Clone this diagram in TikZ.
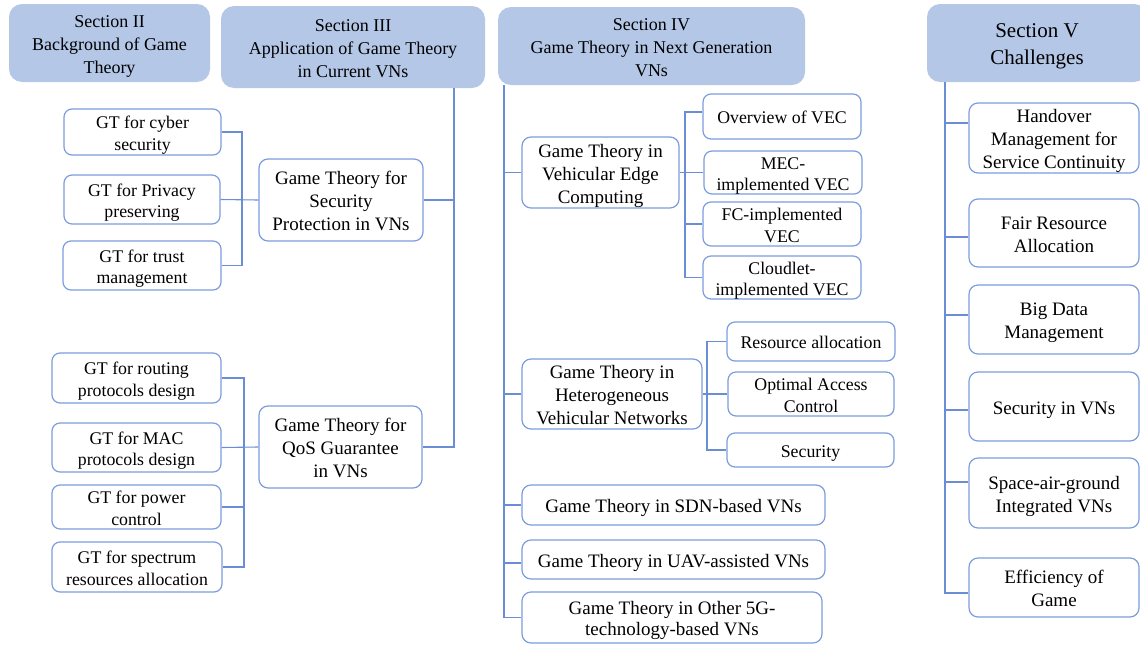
\documentclass[tikz,border=0pt]{standalone}
\usepackage{fontspec}
\setmainfont{Liberation Serif}
\definecolor{hfill}{HTML}{B4C7E7}
\definecolor{bcol}{HTML}{7B9CDD}
\definecolor{lcol}{HTML}{6A8DD6}
\newcommand\boxtext[1]{\raisebox{-3pt}[\height][\depth]{\begin{tabular}{@{}c@{}}#1\end{tabular}}}
\tikzset{
  hdr/.style={fill=hfill, draw=none, rounded corners=13pt, inner sep=0pt,
    font=\fontsize{18}{23}\selectfont},
  hdrbig/.style={hdr, font=\fontsize{21}{27}\selectfont},
  midbox/.style={draw=bcol, line width=1.2pt, rounded corners=9pt, inner sep=0pt,
    font=\fontsize{19}{23}\selectfont},
  leaf/.style={draw=bcol, line width=1.2pt, rounded corners=8pt, inner sep=0pt,
    font=\fontsize{17.8}{21.5}\selectfont},
  ln/.style={draw=lcol, line width=1.1pt}
}
\begin{document}
\begin{tikzpicture}[x=1pt,y=-1pt]
\useasboundingbox (0,0) rectangle (1140,645);
% headers
\node[hdr, minimum width=201pt, minimum height=78pt] (h2) at (109.5,43) {\boxtext{Section II\\Background of Game\\Theory}};
\node[hdr, minimum width=264pt, minimum height=82pt] (h3) at (353,47) {\boxtext{Section III\\Application of Game Theory\\in Current VNs}};
\node[hdr, minimum width=307pt, minimum height=78pt] (h4) at (651.5,46) {\boxtext{Section IV\\Game Theory in Next Generation\\VNs}};
\node[hdrbig, minimum width=220pt, minimum height=78pt] (h5) at (1037,43) {\boxtext{Section V\\Challenges}};

% Section III
\node[midbox, minimum width=164pt, minimum height=82pt] (sec) at (341,200) {\boxtext{Game Theory for\\Security\\Protection in VNs}};
\node[midbox, minimum width=163pt, minimum height=82pt] (qos) at (340.5,447) {\boxtext{Game Theory for\\QoS Guarantee\\in VNs}};
\node[leaf, minimum width=157pt, minimum height=46pt] (g1) at (142.5,132) {\boxtext{GT for cyber\\security}};
\node[leaf, minimum width=156pt, minimum height=49pt] (g2) at (142,199.5) {\boxtext{GT for Privacy\\preserving}};
\node[leaf, minimum width=158pt, minimum height=49pt] (g3) at (142,265.5) {\boxtext{GT for trust\\management}};
\node[leaf, minimum width=169pt, minimum height=50pt] (q1) at (136.5,378) {\boxtext{GT for routing\\protocols design}};
\node[leaf, minimum width=169pt, minimum height=49pt] (q2) at (136.5,447.5) {\boxtext{GT for MAC\\protocols design}};
\node[leaf, minimum width=169pt, minimum height=44pt] (q3) at (136.5,507) {\boxtext{GT for power\\control}};
\node[leaf, minimum width=170pt, minimum height=50pt] (q4) at (137,567) {\boxtext{GT for spectrum\\resources allocation}};
\coordinate (t3) at (454,0);
\coordinate (b1) at (242,0);
\coordinate (b2) at (244,0);
\draw[ln] (h3.south -| t3) -- (t3 |- qos.east) -- (qos.east);
\draw[ln] (sec.east) -- (sec.east -| t3);
\draw[ln] (g1.east) -- (g1.east -| b1) -- (g3.east -| b1) -- (g3.east);
\draw[ln] (g2.east) -- (sec.west);
\draw[ln] (q1.east) -- (q1.east -| b2) -- (q4.east -| b2) -- (q4.east);
\draw[ln] (q2.east) -- (qos.west);
\draw[ln] (q3.east) -- (q3.east -| b2);

% Section IV
\node[midbox, minimum width=157pt, minimum height=71pt] (vec) at (600.5,172.5) {\boxtext{Game Theory in\\Vehicular Edge\\Computing}};
\node[leaf, minimum width=158pt, minimum height=45pt] (v1) at (782,116.5) {\boxtext{Overview of VEC}};
\node[leaf, minimum width=158pt, minimum height=43pt] (v2) at (783,172.5) {\boxtext{MEC-\\implemented VEC}};
\node[leaf, minimum width=158pt, minimum height=44pt] (v3) at (782,224) {\boxtext{FC-implemented\\VEC}};
\node[leaf, minimum width=158pt, minimum height=43pt] (v4) at (782,277.5) {\boxtext{Cloudlet-\\implemented VEC}};
\node[midbox, minimum width=180pt, minimum height=70pt] (het) at (612,394) {\boxtext{Game Theory in\\Heterogeneous\\Vehicular Networks}};
\node[leaf, minimum width=168pt, minimum height=39pt] (r1) at (811,341.5) {\boxtext{Resource allocation}};
\node[leaf, minimum width=166pt, minimum height=44pt] (r2) at (811,394) {\boxtext{Optimal Access\\Control}};
\node[leaf, minimum width=167pt, minimum height=34pt] (r3) at (810.5,450) {\boxtext{Security}};
\node[midbox, minimum width=303pt, minimum height=40pt] (sdn) at (673.5,505) {\boxtext{Game Theory in SDN-based VNs}};
\node[midbox, minimum width=303pt, minimum height=39pt] (uav) at (673.5,559.5) {\boxtext{Game Theory in UAV-assisted VNs}};
\node[midbox, minimum width=300pt, minimum height=51pt, font=\fontsize{19}{21}\selectfont] (oth) at (672,617.5) {\boxtext{Game Theory in Other 5G-\\technology-based VNs}};
\coordinate (t4) at (504,0);
\coordinate (b3) at (685,0);
\coordinate (b4) at (707,0);
\draw[ln] (h4.south -| t4) -- (t4 |- oth.west) -- (oth.west);
\draw[ln] (vec.west) -- (vec.west -| t4);
\draw[ln] (het.west) -- (het.west -| t4);
\draw[ln] (sdn.west) -- (sdn.west -| t4);
\draw[ln] ([yshift=-3.5pt]uav.west) -- ([yshift=-3.5pt]uav.west -| t4);
\draw[ln] ([yshift=4.5pt]v1.west) -- ([yshift=4.5pt]v1.west -| b3) -- (v4.west -| b3) -- (v4.west);
\draw[ln] (vec.east) -- (v2.west);
\draw[ln] (v3.west) -- (v3.west -| b3);
\draw[ln] (r1.west) -- (r1.west -| b4) -- (r3.west -| b4) -- (r3.west);
\draw[ln] (het.east) -- (r2.west);

% Section V
\node[midbox, minimum width=170pt, minimum height=70pt] (c1) at (1054,138) {\boxtext{Handover\\Management for\\Service Continuity}};
\node[midbox, minimum width=170pt, minimum height=68pt] (c2) at (1054,233) {\boxtext{Fair Resource\\Allocation}};
\node[midbox, minimum width=170pt, minimum height=69pt] (c3) at (1054,319.5) {\boxtext{Big Data\\Management}};
\node[midbox, minimum width=170pt, minimum height=69pt] (c4) at (1054,406.5) {\boxtext{Security in VNs}};
\node[midbox, minimum width=170pt, minimum height=70pt] (c5) at (1054,493) {\boxtext{Space-air-ground\\Integrated VNs}};
\node[midbox, minimum width=170pt, minimum height=59pt] (c6) at (1054,587.5) {\boxtext{Efficiency of\\Game}};
\coordinate (t5) at (945,0);
\draw[ln] (h5.south -| t5) -- ([yshift=-5.5pt]c6.west -| t5) -- ([yshift=-5.5pt]c6.west);
\draw[ln] ([yshift=15pt]c1.west) -- ([yshift=15pt]c1.west -| t5);
\draw[ln] ([yshift=-4pt]c2.west) -- ([yshift=-4pt]c2.west -| t5);
\draw[ln] ([yshift=4.5pt]c3.west) -- ([yshift=4.5pt]c3.west -| t5);
\draw[ln] ([yshift=-3.5pt]c4.west) -- ([yshift=-3.5pt]c4.west -| t5);
\draw[ln] ([yshift=11pt]c5.west) -- ([yshift=11pt]c5.west -| t5);
\end{tikzpicture}
\end{document}
